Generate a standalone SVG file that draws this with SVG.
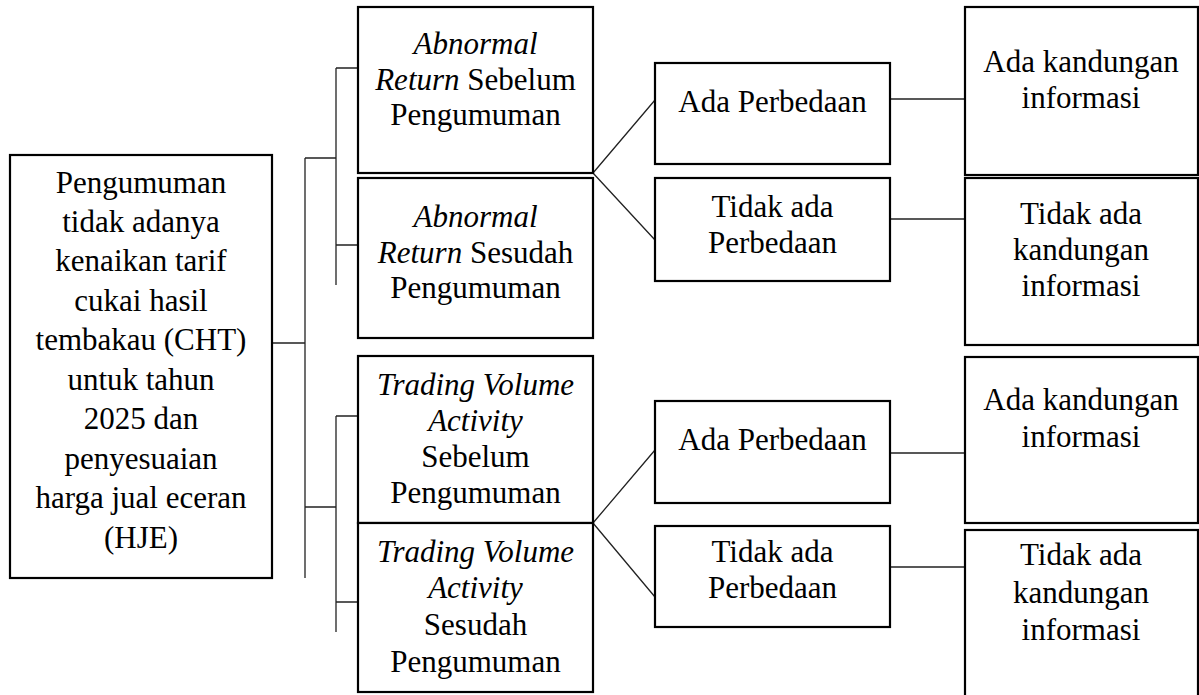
<svg xmlns="http://www.w3.org/2000/svg" width="1199" height="695" viewBox="0 0 1199 695" font-family="Liberation Serif, Times New Roman, serif" font-size="31" text-anchor="middle">
<style>
.box{fill:#fff;stroke:#000;stroke-width:2.2}
.ln{stroke:#222;stroke-width:1.3;fill:none}
.i{font-style:italic}
</style>
<rect width="1199" height="695" fill="#fff"/>
<g id="connectors">
<path class="ln" d="M272,343H305M305,158V578M305,158H336M305,507H336"/>
<path class="ln" d="M336,68V285M336,68H358M336,245H358"/>
<path class="ln" d="M336,416V632M336,416H358M336,602H358"/>
<path class="ln" d="M593,173L655,100M593,173L655,240"/>
<path class="ln" d="M593,523L655,450M593,523L655,597"/>
<path class="ln" d="M891,99H965M891,219H965M891,453H965M891,567H965"/>
</g>
<g id="root">
<rect class="box" x="10" y="155" width="262" height="423"/>
<text x="141" y="193">Pengumuman</text>
<text x="141" y="232">tidak adanya</text>
<text x="141" y="271">kenaikan tarif</text>
<text x="141" y="311">cukai hasil</text>
<text x="141" y="350">tembakau (CHT)</text>
<text x="141" y="390">untuk tahun</text>
<text x="141" y="429">2025 dan</text>
<text x="141" y="469">penyesuaian</text>
<text x="141" y="508">harga jual eceran</text>
<text x="141" y="548">(HJE)</text>
</g>
<g id="ar-before">
<rect class="box" x="358" y="7" width="235" height="166"/>
<text x="475.5" y="54" class="i">Abnormal</text>
<text x="475.5" y="90"><tspan class="i">Return</tspan> Sebelum</text>
<text x="475.5" y="125">Pengumuman</text>
</g>
<g id="ar-after">
<rect class="box" x="358" y="178" width="235" height="160"/>
<text x="475.5" y="227" class="i">Abnormal</text>
<text x="475.5" y="263"><tspan class="i">Return</tspan> Sesudah</text>
<text x="475.5" y="298">Pengumuman</text>
</g>
<g id="tva-before">
<rect class="box" x="358" y="356" width="235" height="167"/>
<text x="475.5" y="395" class="i">Trading Volume</text>
<text x="475.5" y="431" class="i">Activity</text>
<text x="475.5" y="467">Sebelum</text>
<text x="475.5" y="503">Pengumuman</text>
</g>
<g id="tva-after">
<rect class="box" x="358" y="523" width="235" height="169"/>
<text x="475.5" y="562" class="i">Trading Volume</text>
<text x="475.5" y="598" class="i">Activity</text>
<text x="475.5" y="635">Sesudah</text>
<text x="475.5" y="672">Pengumuman</text>
</g>
<g id="ada-1">
<rect class="box" x="655" y="63" width="235" height="101"/>
<text x="772.5" y="112">Ada Perbedaan</text>
</g>
<g id="tidak-1">
<rect class="box" x="655" y="178" width="235" height="103"/>
<text x="772.5" y="217">Tidak ada</text>
<text x="772.5" y="253">Perbedaan</text>
</g>
<g id="ada-2">
<rect class="box" x="655" y="401" width="235" height="102"/>
<text x="772.5" y="450">Ada Perbedaan</text>
</g>
<g id="tidak-2">
<rect class="box" x="655" y="526" width="235" height="101"/>
<text x="772.5" y="562">Tidak ada</text>
<text x="772.5" y="598">Perbedaan</text>
</g>
<g id="info-1">
<rect class="box" x="965" y="7" width="233" height="168"/>
<text x="1081" y="72">Ada kandungan</text>
<text x="1081" y="108">informasi</text>
</g>
<g id="noinfo-1">
<rect class="box" x="965" y="178" width="233" height="167"/>
<text x="1081" y="224">Tidak ada</text>
<text x="1081" y="260">kandungan</text>
<text x="1081" y="296">informasi</text>
</g>
<g id="info-2">
<rect class="box" x="965" y="357" width="233" height="166"/>
<text x="1081" y="410">Ada kandungan</text>
<text x="1081" y="447">informasi</text>
</g>
<g id="noinfo-2">
<rect class="box" x="965" y="530" width="233" height="175"/>
<text x="1081" y="565">Tidak ada</text>
<text x="1081" y="603">kandungan</text>
<text x="1081" y="640">informasi</text>
</g>
</svg>
